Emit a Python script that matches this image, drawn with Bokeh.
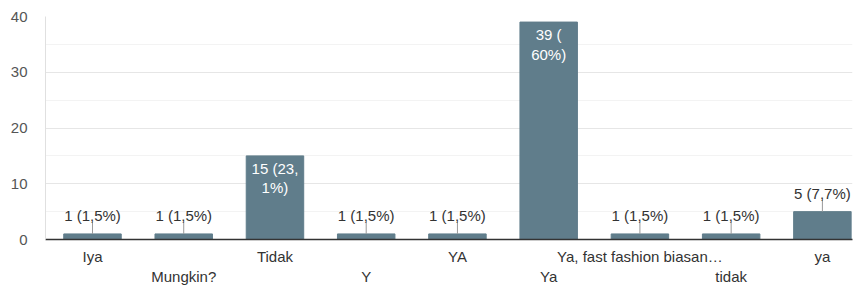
from bokeh.plotting import figure
from bokeh.models import FixedTicker, Range1d
from bokeh.core.properties import value
from bokeh.embed import file_html
from bokeh.resources import INLINE

categories = ["Iya", "Mungkin?", "Tidak", "Y", "YA", "Ya",
              "Ya, fast fashion biasan\u2026", "tidak", "ya"]
counts = [1, 1, 15, 1, 1, 39, 1, 1, 5]
labels = ["1 (1,5%)", "1 (1,5%)", "15 (23,\n1%)", "1 (1,5%)", "1 (1,5%)",
          "39 (\n60%)", "1 (1,5%)", "1 (1,5%)", "5 (7,7%)"]
y_ticks = [0, 10, 20, 30, 40]
y_minor = [5, 15, 25, 35]

FONT = "Liberation Sans"
BAR = "#607d8b"

xs = list(range(len(categories)))
inside = [c >= 10 for c in counts]

p = figure(width=862, height=289, output_backend="svg", toolbar_location=None,
           x_range=Range1d(-0.515, 8.33), y_range=Range1d(0, 40),
           min_border_left=45, min_border_right=10, min_border_top=16,
           min_border_bottom=50)
p.outline_line_color = None
p.background_fill_color = "white"
p.border_fill_color = "white"

p.vbar(x=xs, top=counts, width=0.63, color=BAR)

# leader lines + outside labels
out_x = [x for x, i in zip(xs, inside) if not i]
out_y = [c for c, i in zip(counts, inside) if not i]
out_t = [t for t, i in zip(labels, inside) if not i]
lead_top = [c + 2.1 for c in out_y]
p.segment(x0=out_x, y0=out_y, x1=out_x, y1=lead_top, line_color="#999999", line_width=1)
p.text(x=out_x, y=lead_top, text=out_t, text_align="center", text_baseline="bottom",
       y_offset=2, text_font=value(FONT), text_font_size="15px", text_color="#333333")

in_x = [x for x, i in zip(xs, inside) if i]
in_y = [c for c, i in zip(counts, inside) if i]
in_t = [t for t, i in zip(labels, inside) if i]
p.text(x=in_x, y=in_y, text=in_t, text_align="center", text_baseline="top",
       y_offset=4, text_font=value(FONT), text_font_size="15px", text_color="white",
       text_line_height=1.15)

# x axis
p.xaxis.ticker = FixedTicker(ticks=xs)
p.xaxis.major_label_overrides = {i: (c if i % 2 == 0 else "\n" + c) for i, c in enumerate(categories)}
p.xaxis.major_tick_line_color = None
p.xaxis.major_tick_out = 0
p.xaxis.major_tick_in = 0
p.xaxis.minor_tick_line_color = None
p.xaxis.axis_line_color = "#333333"
p.xaxis.axis_line_width = 1.5
p.xaxis.major_label_text_font = FONT
p.xaxis.major_label_text_font_size = "15px"
p.xaxis.major_label_text_color = "#333333"
p.xaxis.major_label_text_line_height = 1.2
p.xaxis.major_label_standoff = 8

# y axis
p.yaxis.ticker = FixedTicker(ticks=y_ticks, minor_ticks=y_minor)
p.yaxis.major_tick_line_color = None
p.yaxis.major_tick_out = 0
p.yaxis.major_tick_in = 0
p.yaxis.minor_tick_line_color = None
p.yaxis.axis_line_color = "#e0e0e0"
p.yaxis.major_label_text_font = FONT
p.yaxis.major_label_text_font_size = "15px"
p.yaxis.major_label_text_color = "#555555"
p.yaxis.major_label_standoff = 14

p.xgrid.grid_line_color = None
p.ygrid.grid_line_color = "#e6e6e6"
p.ygrid.minor_grid_line_color = "#f3f3f3"

open("out.html", "w").write(file_html(p, INLINE))
